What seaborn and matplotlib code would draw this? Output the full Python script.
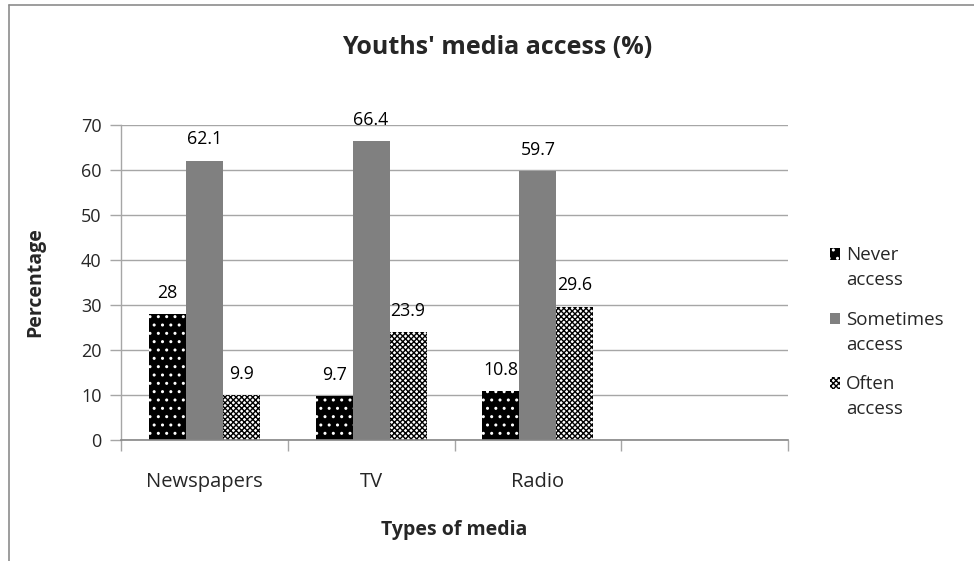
import numpy as np
import pandas as pd
import matplotlib
matplotlib.use("Agg")
import matplotlib.pyplot as plt
import seaborn as sns
from matplotlib.lines import Line2D

categories = ["Newspapers", "TV", "Radio"]
slots = ["Newspapers", "TV", "Radio", ""]
series = ["Never access", "Sometimes access", "Often access"]
legend_labels = ["Never\naccess", "Sometimes\naccess", "Often\naccess"]
never = [28, 9.7, 10.8]
sometimes = [62.1, 66.4, 59.7]
often = [9.9, 23.9, 29.6]
yticks = [0, 10, 20, 30, 40, 50, 60, 70]

rows = []
for s, vals in zip(series, [never, sometimes, often]):
    for c, v in zip(categories, vals):
        rows.append({"Type": c, "Access": s, "Value": v})
df = pd.DataFrame(rows)

sns.set_theme(style="white")
plt.rcParams['font.family'] = ['Open Sans', 'DejaVu Sans']
plt.rcParams['hatch.linewidth'] = 1.0

fig = plt.figure(figsize=(9.74, 5.61), dpi=100)
ax = fig.add_axes([121/974, 1-440/561, (788-121)/974, (440-125)/561])

sns.barplot(data=df, x="Type", y="Value", hue="Access", order=slots,
            hue_order=series, palette=["#000000", "#808080", "#ffffff"],
            width=0.665, legend=False, ax=ax, errorbar=None, saturation=1)

styles = [dict(fc="#000000", ec="#ffffff", hatch=".."),
          dict(fc="#808080", ec="#808080", hatch=None),
          dict(fc="#ffffff", ec="#000000", hatch="xxxxxx")]
for cont, st in zip(ax.containers, styles):
    for p in cont.patches:
        p.set_facecolor(st["fc"])
        p.set_edgecolor(st["ec"])
        p.set_linewidth(0)
        if st["hatch"]:
            p.set_hatch(st["hatch"])
    ax.bar_label(cont, fmt="%g", padding=9, fontsize=12.8, color="#000000")

ax.set_xlim(-0.5, 3.5)
ax.set_ylim(0, 70)
ax.set_yticks(yticks)
ax.set_yticklabels([str(t) for t in yticks], fontsize=13)
ax.yaxis.grid(True, color="#a6a6a6", linewidth=1)
ax.set_axisbelow(True)
for sp in ["top", "right"]:
    ax.spines[sp].set_visible(False)
ax.spines["left"].set_color("#a6a6a6")
ax.spines["bottom"].set_color("#868686")
ax.spines["left"].set_linewidth(1)
ax.spines["bottom"].set_linewidth(1.2)
ax.tick_params(axis="y", which="major", length=8, width=1, color="#a6a6a6",
               direction="out", left=True, pad=6)
ax.set_xticks(range(4))
ax.set_xticklabels(slots, fontsize=14.5)
ax.set_xticks([-0.5, 0.5, 1.5, 2.5, 3.5], minor=True)
ax.tick_params(axis="x", which="major", length=0, pad=23)
ax.tick_params(axis="x", which="minor", length=8, width=1, color="#a6a6a6",
               direction="out", bottom=True)

ax.set_xlabel("Types of media", fontsize=14, fontweight="bold", labelpad=20)
ax.set_ylabel("Percentage", fontsize=14, fontweight="bold", labelpad=26)
fig.text(497/974, 1-47/561, "Youths' media access (%)", fontsize=18,
         fontweight="bold", ha="center", va="center")

handles = [cont.patches[0] for cont in ax.containers]
leg = ax.legend(handles=handles, labels=legend_labels, loc="upper left",
                bbox_to_anchor=(830/974, 1-246/561), bbox_transform=fig.transFigure,
                frameon=False, fontsize=13.5, handlelength=0.55, handleheight=0.55,
                handletextpad=0.3, borderpad=0, borderaxespad=0, labelspacing=1.15)
for t in leg.get_texts():
    t.set_linespacing(1.5)
for h in leg.legend_handles:
    h.set_y(h.get_y() + 10)

fig.add_artist(Line2D([9/974, 1], [1-5/561, 1-5/561], transform=fig.transFigure,
                      color="#8c8c8c", linewidth=1.2))
fig.add_artist(Line2D([9/974, 9/974], [0, 1-5/561], transform=fig.transFigure,
                      color="#8c8c8c", linewidth=1.2))

fig.savefig("out.png", dpi=100)
